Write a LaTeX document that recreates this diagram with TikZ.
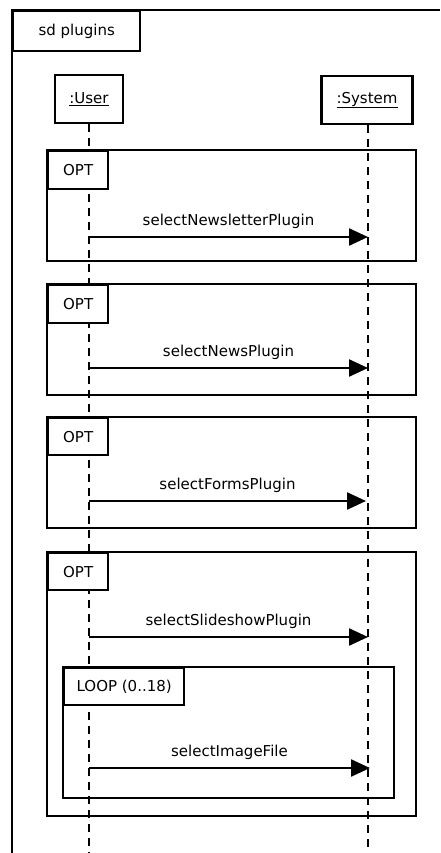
\documentclass[tikz,border=0pt]{standalone}
\usepackage{fontspec}
\setmainfont{DejaVu Sans}
\usetikzlibrary{arrows.meta,positioning}
\tikzset{
	frame/.style = {draw, line width=2.4pt},
	tab/.style = {
			draw,
			fill       = white,
			line width = 2.4pt,
			anchor     = north west,
			inner sep  = 0pt,
		},
	head/.style = {
			draw,
			line width     = 2.4pt,
			minimum height = 48pt,
			inner sep      = 0pt,
		},
	lifeline/.style = {line width=1.3pt, dash pattern=on 8pt off 6pt},
	msg/.style = {line width=2.4pt, -{Triangle[length=19pt,width=17pt]}},
	every node/.append style = {font=\fontsize{15}{18}\selectfont}
}

\begin{document}
\begin{tikzpicture}[x=1pt, y=-1pt]
	\useasboundingbox (0,0) rectangle (440,853);

	% outer frame
	\draw[line width=2.4pt] (12,853) -- (12,10) -- (440,10);
	\node[tab, minimum width=127pt, minimum height=40pt] at (12,10) (sdtab) {sd plugins};

	% lifeline heads
	\node[head, minimum width=68pt] at (89,99) (user) {\underline{:User}};
	\node[head, minimum width=91pt] at (367,100) (system) {\underline{:System}};

	\coordinate (userend) at (89,853);
	\coordinate (systemend) at (368,853);

	% lifelines
	\draw[lifeline] (user.south) -- (userend);
	\draw[lifeline] (system.south -| systemend) -- (systemend);

	% opt frames
	\draw[frame] (47,150) rectangle (416,261);
	\node[tab, minimum width=60pt, minimum height=38pt] at (47,150) (opt1) {OPT};
	\draw[frame] (47,284) rectangle (416,395);
	\node[tab, minimum width=60pt, minimum height=38pt] at (47,284) (opt2) {OPT};
	\draw[frame] (47,417) rectangle (416,528);
	\node[tab, minimum width=60pt, minimum height=37pt] at (47,417) (opt3) {OPT};
	\draw[frame] (47,552) rectangle (416,816);
	\node[tab, minimum width=60pt, minimum height=37pt] at (47,552) (opt4) {OPT};

	% loop frame
	\draw[frame] (63,667) rectangle (394,798);
	\node[tab, minimum width=120pt, minimum height=37pt] at (63,667) (loop) {LOOP (0..18)};

	% messages
	\coordinate (u1) at (89,237);
	\coordinate (s1) at (368,237);
	\coordinate (u2) at (89,368);
	\coordinate (s2) at (368,368);
	\coordinate (u3) at (89,501);
	\coordinate (s3) at (366,501);
	\coordinate (u4) at (89,637);
	\coordinate (s4) at (368,637);
	\coordinate (u5) at (89,768);
	\coordinate (s5) at (370,768);

	\draw[msg] (u1) -- node[above=6pt, inner sep=1pt] (m1) {selectNewsletterPlugin} (s1);
	\draw[msg] (u2) -- node[above=6pt, inner sep=1pt] (m2) {selectNewsPlugin} (s2);
	\draw[msg] (u3) -- node[above=6pt, inner sep=1pt] (m3) {selectFormsPlugin} (s3);
	\draw[msg] (u4) -- node[above=6pt, inner sep=1pt] (m4) {selectSlideshowPlugin} (s4);
	\draw[msg] (u5) -- node[above=6pt, inner sep=1pt] (m5) {selectImageFile} (s5);
\end{tikzpicture}
\end{document}
